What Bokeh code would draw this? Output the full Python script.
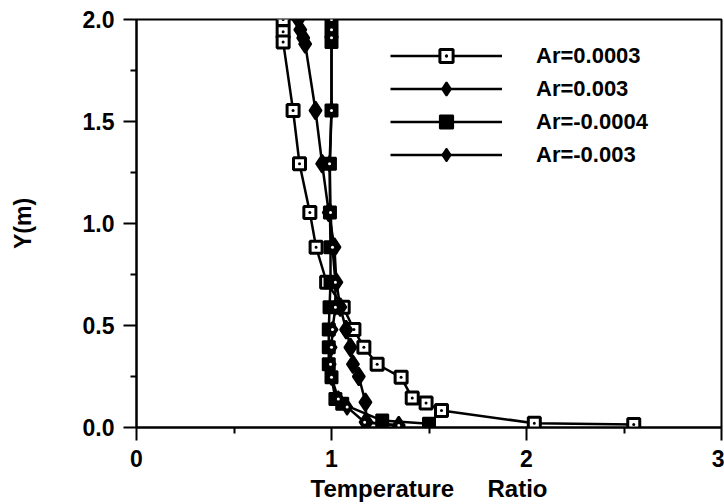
from bokeh.plotting import figure
from bokeh.models import Range1d, FixedTicker, PrintfTickFormatter, Legend, LegendItem
from bokeh.embed import file_html
from bokeh.resources import INLINE

# ---- data ----
labels = ["Ar=0.0003", "Ar=0.003", "Ar=-0.0004", "Ar=-0.003"]

ar_p0003_x = [0.752, 0.752, 0.752, 0.803, 0.836, 0.889, 0.921, 0.975, 1.06, 1.115,
              1.166, 1.234, 1.357, 1.414, 1.485, 1.564, 2.04, 2.55]
ar_p0003_y = [2.0, 1.94, 1.89, 1.554, 1.293, 1.054, 0.884, 0.712, 0.59, 0.48,
              0.393, 0.31, 0.246, 0.145, 0.12, 0.083, 0.021, 0.015]

ar_p003_x = [0.83, 0.84, 0.855, 0.865, 0.918, 0.952, 0.986, 1.015, 1.025, 1.045,
             1.075, 1.097, 1.11, 1.14, 1.174, 1.18, 1.345]
ar_p003_y = [2.0, 1.95, 1.91, 1.88, 1.554, 1.293, 1.054, 0.884, 0.712, 0.59,
             0.48, 0.393, 0.31, 0.25, 0.124, 0.026, 0.01]

ar_m0004_x = [1.0, 1.0, 1.0, 1.0, 0.992, 0.992, 0.995, 0.995, 0.99, 0.986,
              0.986, 0.986, 1.0, 1.02, 1.055, 1.26, 1.5]
ar_m0004_y = [2.0, 1.94, 1.89, 1.554, 1.293, 1.054, 0.884, 0.712, 0.59, 0.48,
              0.393, 0.31, 0.246, 0.14, 0.116, 0.034, 0.018]

ar_m003_x = [1.0, 1.0, 1.0, 1.0, 0.99, 0.995, 1.005, 1.02, 1.02, 1.005,
             1.0, 0.995, 1.0, 1.035, 1.08, 1.17, 1.345]
ar_m003_y = [2.0, 1.95, 1.91, 1.554, 1.293, 1.054, 0.884, 0.712, 0.59, 0.48,
             0.393, 0.31, 0.246, 0.14, 0.1, 0.026, 0.01]

x_ticks = [0, 1, 2, 3]
x_minor = [0.5, 1.5, 2.5]
y_ticks = [0.0, 0.5, 1.0, 1.5, 2.0]
y_minor = [0.25, 0.75, 1.25, 1.75]

FONT = "Liberation Sans"
NB = "\u00a0"

p = figure(width=724, height=504, output_backend="svg", toolbar_location=None,
           x_range=Range1d(0, 3), y_range=Range1d(0, 2),
           min_border_left=136, min_border_right=3, min_border_top=19,
           min_border_bottom=77, background_fill_color="white",
           border_fill_color="white")

p.xgrid.visible = False
p.ygrid.visible = False
p.outline_line_color = "black"
p.outline_line_width = 2

for ax in (p.xaxis[0], p.yaxis[0]):
    ax.axis_line_color = "black"
    ax.axis_line_width = 2
    ax.major_tick_line_color = "black"
    ax.major_tick_line_width = 2
    ax.minor_tick_line_color = "black"
    ax.minor_tick_line_width = 2
    ax.major_tick_out = 13
    ax.major_tick_in = 0
    ax.minor_tick_out = 6
    ax.minor_tick_in = 0
    ax.major_label_text_font = FONT
    ax.major_label_text_font_style = "bold"
    ax.major_label_text_font_size = "23px"
    ax.major_label_text_color = "black"
    ax.axis_label_text_font = FONT
    ax.axis_label_text_font_style = "bold"
    ax.axis_label_text_color = "black"

p.xaxis[0].ticker = FixedTicker(ticks=x_ticks, minor_ticks=x_minor)
p.yaxis[0].ticker = FixedTicker(ticks=y_ticks, minor_ticks=y_minor)
p.yaxis[0].formatter = PrintfTickFormatter(format="%.1f")
p.xaxis[0].major_label_standoff = 9
p.yaxis[0].major_label_standoff = 9
p.xaxis[0].axis_label = "Temperature" + NB * 5 + "Ratio"
p.xaxis[0].axis_label_text_font_size = "24px"
p.xaxis[0].axis_label_standoff = 5
p.yaxis[0].axis_label = "Y(m)"
p.yaxis[0].axis_label_text_font_size = "23px"
p.yaxis[0].axis_label_standoff = 44

LW = 2.5

# Ar=0.0003 : open square with dot
l1 = p.line(ar_p0003_x, ar_p0003_y, line_color="black", line_width=LW)
m1 = p.scatter(ar_p0003_x, ar_p0003_y, marker="square_dot", size=12,
               fill_color="white", line_color="black", line_width=3)

# Ar=0.003 : filled diamond
l2 = p.line(ar_p003_x, ar_p003_y, line_color="black", line_width=LW)
m2 = p.scatter(ar_p003_x, ar_p003_y, marker="diamond", size=18,
               fill_color="black", line_color="black", line_width=2)

# Ar=-0.0004 : filled square
l3 = p.line(ar_m0004_x, ar_m0004_y, line_color="black", line_width=LW)
m3 = p.scatter(ar_m0004_x, ar_m0004_y, marker="square", size=12,
               fill_color="black", line_color="black", line_width=2)

# Ar=-0.003 : diamond with small white centre
l4 = p.line(ar_m003_x, ar_m003_y, line_color="black", line_width=LW)
m4 = p.scatter(ar_m003_x, ar_m003_y, marker="diamond", size=16,
               fill_color="black", line_color="black", line_width=1.5)
d4 = p.scatter(ar_m003_x, ar_m003_y, marker="circle", size=3,
               fill_color="white", line_color=None)

legend = Legend(items=[
    LegendItem(label=labels[0], renderers=[l1, m1]),
    LegendItem(label=labels[1], renderers=[l2, m2]),
    LegendItem(label=labels[2], renderers=[l3, m3]),
    LegendItem(label=labels[3], renderers=[l4, m4]),
], location=(254, 256))
legend.glyph_width = 112
legend.glyph_height = 33
legend.label_height = 33
legend.spacing = 0
legend.padding = 0
legend.margin = 0
legend.label_standoff = 34
legend.label_text_font = FONT
legend.label_text_font_style = "bold"
legend.label_text_font_size = "22px"
legend.label_text_color = "black"
legend.border_line_alpha = 0
legend.background_fill_alpha = 0
p.add_layout(legend, "center")

open("out.html", "w").write(file_html(p, INLINE))
